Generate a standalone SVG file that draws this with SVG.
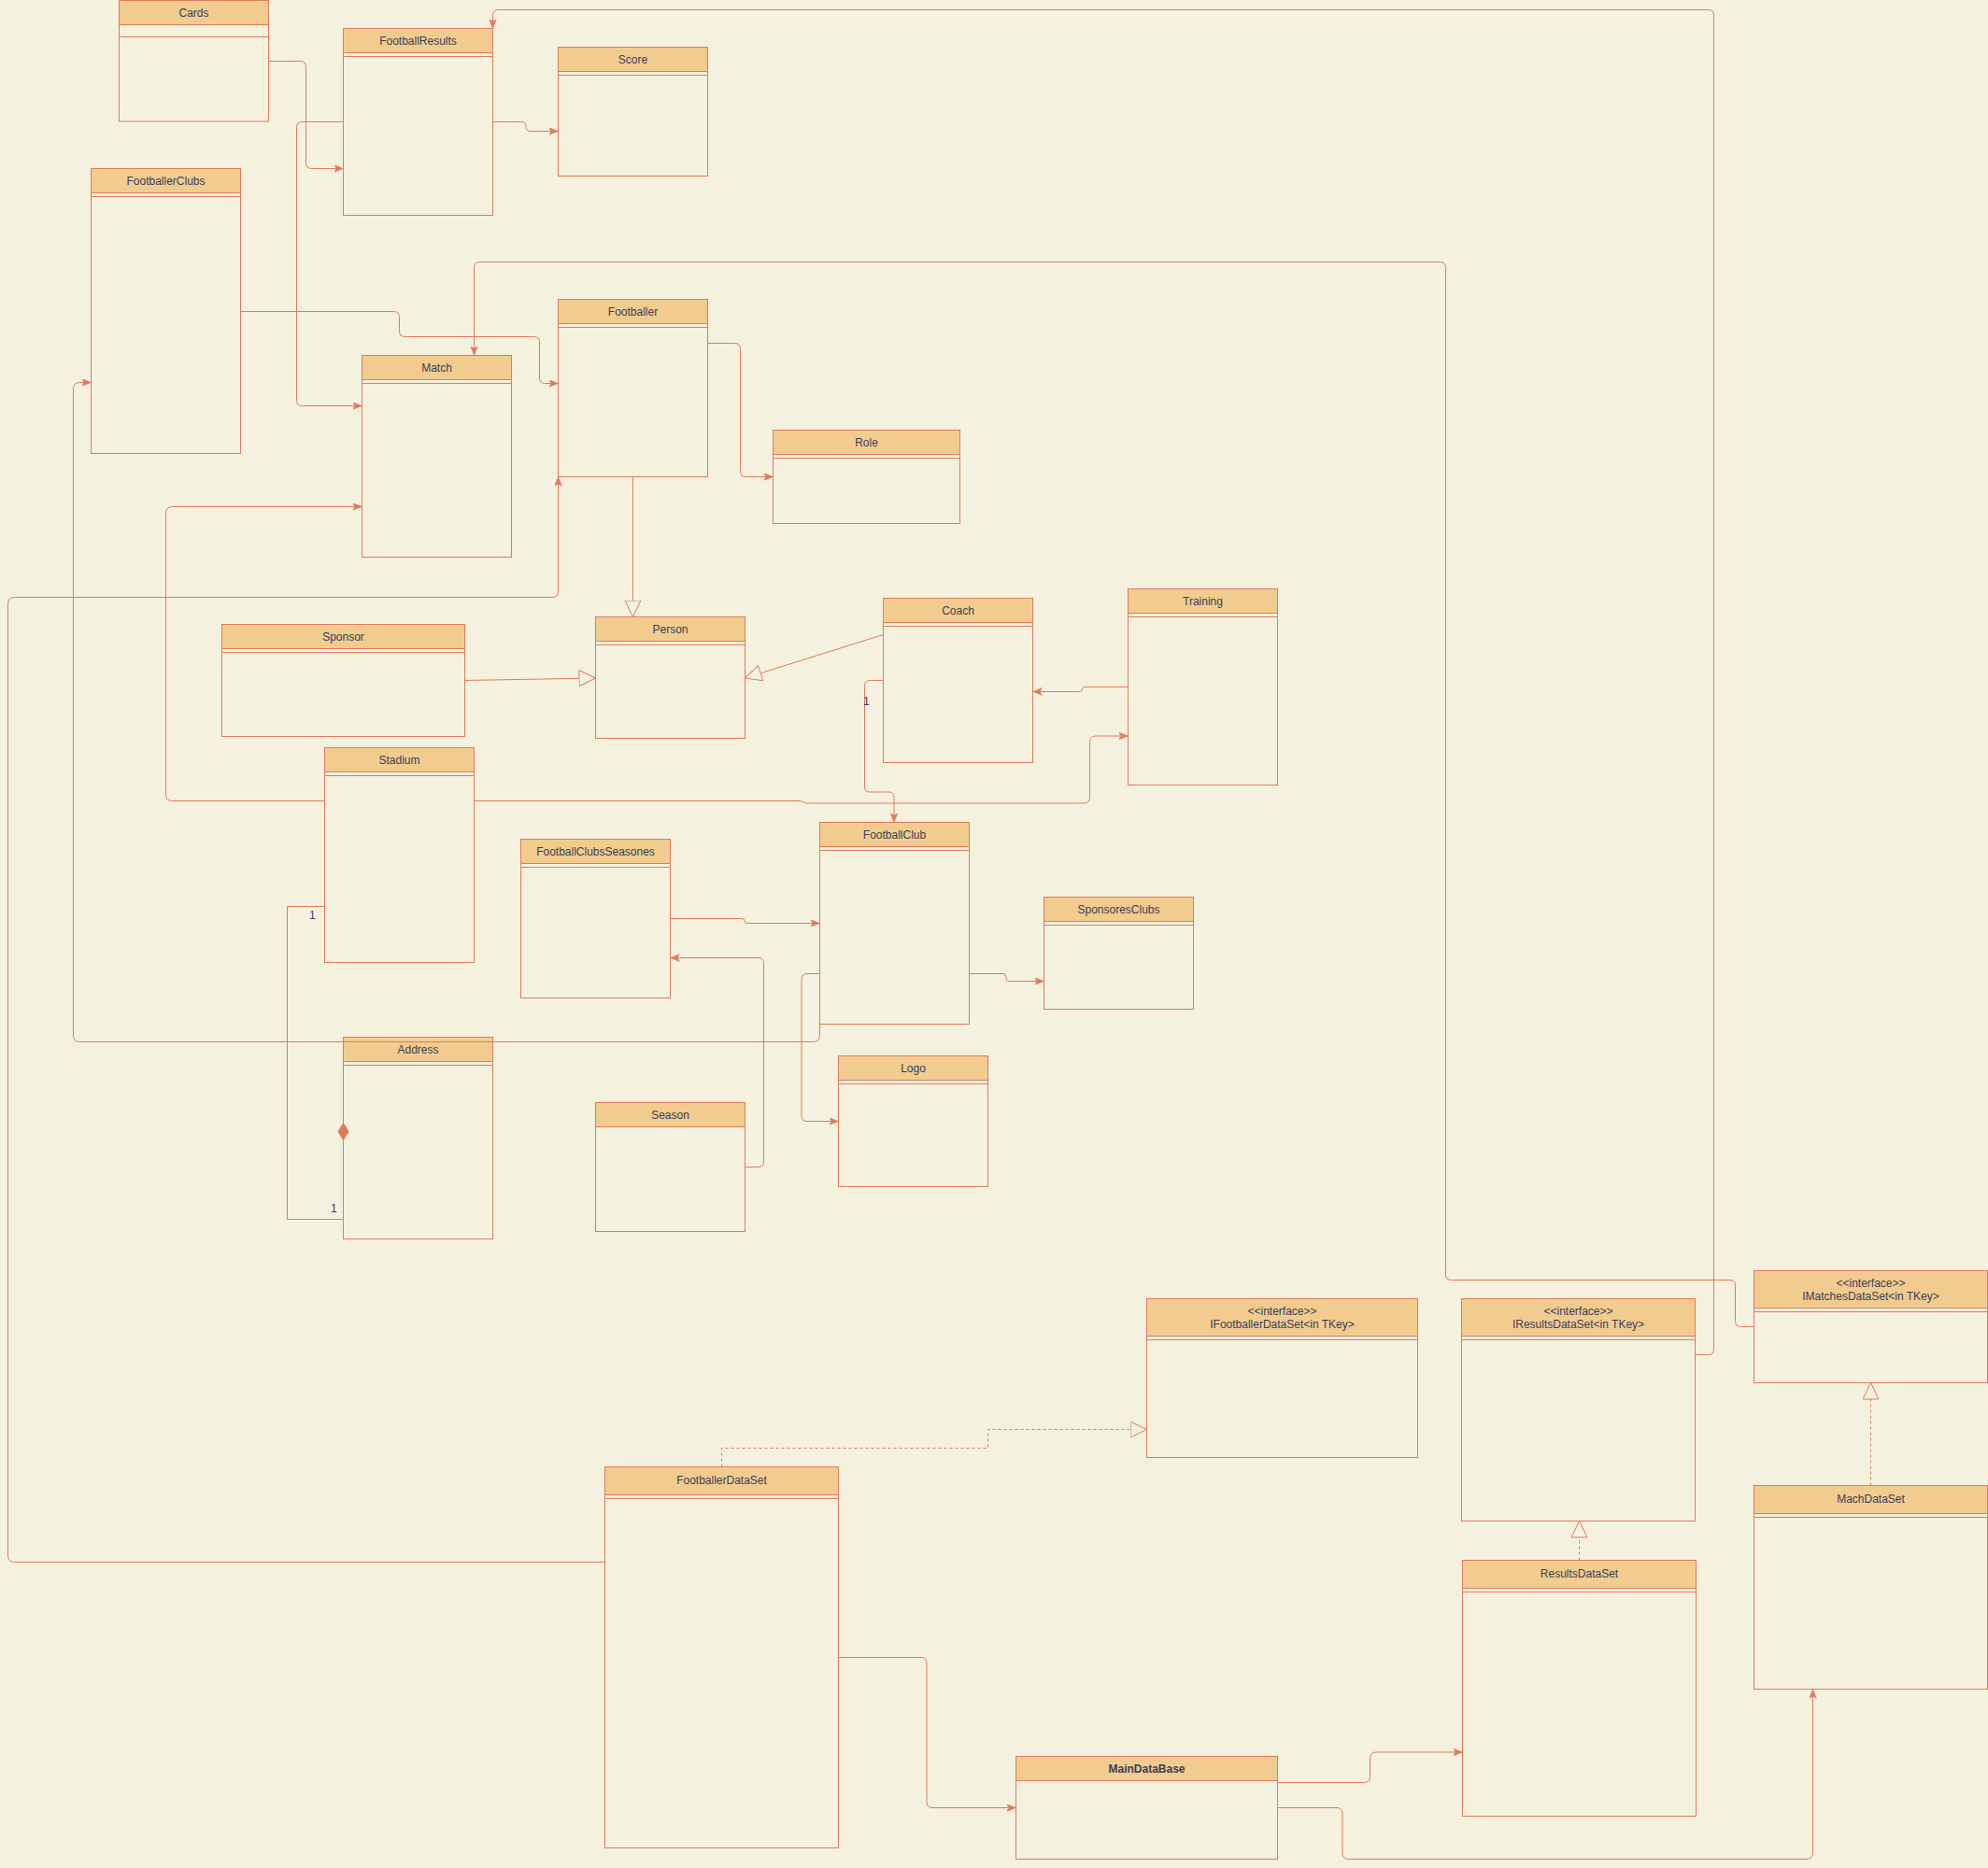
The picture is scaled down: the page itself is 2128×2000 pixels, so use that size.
<svg xmlns="http://www.w3.org/2000/svg" width="2128" height="2000" viewBox="0 0 2128 2000">
<style>
.bg{fill:#F4F1DE}
.box{fill:#F4F1DE;stroke:#E07A5F;stroke-width:1}
.hdr{fill:#F2CC8F;stroke:#E07A5F;stroke-width:1}
.sep{stroke:#E07A5F;stroke-width:1;fill:none}
.t{font-family:"Liberation Sans",Arial,Helvetica,sans-serif;font-size:12px;fill:#393C56;text-anchor:middle;dominant-baseline:central}
.tl{font-family:"Liberation Sans",Arial,Helvetica,sans-serif;font-size:12px;fill:#393C56;dominant-baseline:central}
.b{font-weight:bold}
.e{fill:none;stroke:#E07A5F;stroke-width:1}
.arr{marker-end:url(#arrow)}
.gen{marker-end:url(#tri)}
.dash{stroke-dasharray:3 3}
</style>
<defs>
<marker id="arrow" markerUnits="userSpaceOnUse" markerWidth="12" markerHeight="10" refX="10" refY="4" orient="auto">
<path d="M0,0 L10,4 L0,8 L2.5,4 z" fill="#E07A5F" stroke="#E07A5F" stroke-width="0.5"/>
</marker>
<marker id="tri" markerUnits="userSpaceOnUse" markerWidth="20" markerHeight="20" refX="18" refY="9" orient="auto">
<path d="M0.5,0.5 L18,9 L0.5,17.5 z" fill="#F4F1DE" stroke="#E07A5F" stroke-width="1" stroke-dasharray="none"/>
</marker>
</defs>
<rect class="bg" x="0" y="0" width="2128" height="2000"/>

<g id="Cards">
<rect class="box" x="127.5" y="0.5" width="160" height="129.5"/>
<rect class="hdr" x="127.5" y="0.5" width="160" height="26"/>
<line class="sep" x1="127.5" y1="39.5" x2="287.5" y2="39.5"/>
<text class="t" x="207.5" y="13.5">Cards</text>
</g>

<g id="FootballResults">
<rect class="box" x="367.5" y="30.5" width="160" height="200"/>
<rect class="hdr" x="367.5" y="30.5" width="160" height="26"/>
<line class="sep" x1="367.5" y1="60.5" x2="527.5" y2="60.5"/>
<text class="t" x="447.5" y="43.5">FootballResults</text>
</g>

<g id="Score">
<rect class="box" x="597.5" y="50.5" width="160" height="138"/>
<rect class="hdr" x="597.5" y="50.5" width="160" height="26"/>
<line class="sep" x1="597.5" y1="80.5" x2="757.5" y2="80.5"/>
<text class="t" x="677.5" y="63.5">Score</text>
</g>

<g id="FootballerClubs">
<rect class="box" x="97.5" y="180.5" width="160" height="305"/>
<rect class="hdr" x="97.5" y="180.5" width="160" height="26"/>
<line class="sep" x1="97.5" y1="210.5" x2="257.5" y2="210.5"/>
<text class="t" x="177.5" y="193.5">FootballerClubs</text>
</g>

<g id="Match">
<rect class="box" x="387.5" y="380.5" width="160" height="216"/>
<rect class="hdr" x="387.5" y="380.5" width="160" height="26"/>
<line class="sep" x1="387.5" y1="410.5" x2="547.5" y2="410.5"/>
<text class="t" x="467.5" y="393.5">Match</text>
</g>

<g id="Footballer">
<rect class="box" x="597.5" y="320.5" width="160" height="190"/>
<rect class="hdr" x="597.5" y="320.5" width="160" height="26"/>
<line class="sep" x1="597.5" y1="350.5" x2="757.5" y2="350.5"/>
<text class="t" x="677.5" y="333.5">Footballer</text>
</g>

<g id="Role">
<rect class="box" x="827.5" y="460.5" width="200" height="100"/>
<rect class="hdr" x="827.5" y="460.5" width="200" height="26"/>
<line class="sep" x1="827.5" y1="490.5" x2="1027.5" y2="490.5"/>
<text class="t" x="927.5" y="473.5">Role</text>
</g>

<g id="Sponsor">
<rect class="box" x="237.5" y="668.5" width="260" height="120"/>
<rect class="hdr" x="237.5" y="668.5" width="260" height="26"/>
<line class="sep" x1="237.5" y1="698.5" x2="497.5" y2="698.5"/>
<text class="t" x="367.5" y="681.5">Sponsor</text>
</g>

<g id="Person">
<rect class="box" x="637.5" y="660.5" width="160" height="130"/>
<rect class="hdr" x="637.5" y="660.5" width="160" height="26"/>
<line class="sep" x1="637.5" y1="690.5" x2="797.5" y2="690.5"/>
<text class="t" x="717.5" y="673.5">Person</text>
</g>

<g id="Coach">
<rect class="box" x="945.5" y="640.5" width="160" height="176"/>
<rect class="hdr" x="945.5" y="640.5" width="160" height="26"/>
<line class="sep" x1="945.5" y1="670.5" x2="1105.5" y2="670.5"/>
<text class="t" x="1025.5" y="653.5">Coach</text>
</g>

<g id="Training">
<rect class="box" x="1207.5" y="630.5" width="160" height="210"/>
<rect class="hdr" x="1207.5" y="630.5" width="160" height="26"/>
<line class="sep" x1="1207.5" y1="660.5" x2="1367.5" y2="660.5"/>
<text class="t" x="1287.5" y="643.5">Training</text>
</g>

<g id="Stadium">
<rect class="box" x="347.5" y="800.5" width="160" height="230"/>
<rect class="hdr" x="347.5" y="800.5" width="160" height="26"/>
<line class="sep" x1="347.5" y1="830.5" x2="507.5" y2="830.5"/>
<text class="t" x="427.5" y="813.5">Stadium</text>
</g>

<g id="FootballClubsSeasones">
<rect class="box" x="557.5" y="898.5" width="160" height="170"/>
<rect class="hdr" x="557.5" y="898.5" width="160" height="26"/>
<line class="sep" x1="557.5" y1="928.5" x2="717.5" y2="928.5"/>
<text class="t" x="637.5" y="911.5">FootballClubsSeasones</text>
</g>

<g id="FootballClub">
<rect class="box" x="877.5" y="880.5" width="160" height="216"/>
<rect class="hdr" x="877.5" y="880.5" width="160" height="26"/>
<line class="sep" x1="877.5" y1="910.5" x2="1037.5" y2="910.5"/>
<text class="t" x="957.5" y="893.5">FootballClub</text>
</g>

<g id="SponsoresClubs">
<rect class="box" x="1117.5" y="960.5" width="160" height="120"/>
<rect class="hdr" x="1117.5" y="960.5" width="160" height="26"/>
<line class="sep" x1="1117.5" y1="990.5" x2="1277.5" y2="990.5"/>
<text class="t" x="1197.5" y="973.5">SponsoresClubs</text>
</g>

<g id="Logo">
<rect class="box" x="897.5" y="1130.5" width="160" height="140"/>
<rect class="hdr" x="897.5" y="1130.5" width="160" height="26"/>
<line class="sep" x1="897.5" y1="1160.5" x2="1057.5" y2="1160.5"/>
<text class="t" x="977.5" y="1143.5">Logo</text>
</g>

<g id="Address">
<rect class="box" x="367.5" y="1110.5" width="160" height="216"/>
<rect class="hdr" x="367.5" y="1110.5" width="160" height="26"/>
<line class="sep" x1="367.5" y1="1140.5" x2="527.5" y2="1140.5"/>
<text class="t" x="447.5" y="1123.5">Address</text>
</g>

<g id="Season">
<rect class="box" x="637.5" y="1180.5" width="160" height="138"/>
<rect class="hdr" x="637.5" y="1180.5" width="160" height="26"/>
<text class="t" x="717.5" y="1193.5">Season</text>
</g>

<g id="IFootballerDataSet">
<rect class="box" x="1227.5" y="1390.5" width="290" height="170"/>
<rect class="hdr" x="1227.5" y="1390.5" width="290" height="40"/>
<line class="sep" x1="1227.5" y1="1434.5" x2="1517.5" y2="1434.5"/>
<text class="t" x="1372.5" y="1403.5">&lt;&lt;interface&gt;&gt;</text>
<text class="t" x="1372.5" y="1417.5">IFootballerDataSet&lt;in TKey&gt;</text>
</g>

<g id="IResultsDataSet">
<rect class="box" x="1564.5" y="1390.5" width="250" height="238"/>
<rect class="hdr" x="1564.5" y="1390.5" width="250" height="40"/>
<line class="sep" x1="1564.5" y1="1434.5" x2="1814.5" y2="1434.5"/>
<text class="t" x="1689.5" y="1403.5">&lt;&lt;interface&gt;&gt;</text>
<text class="t" x="1689.5" y="1417.5">IResultsDataSet&lt;in TKey&gt;</text>
</g>

<g id="IMatchesDataSet">
<rect class="box" x="1877.5" y="1360.5" width="250" height="120"/>
<rect class="hdr" x="1877.5" y="1360.5" width="250" height="40"/>
<line class="sep" x1="1877.5" y1="1404.5" x2="2127.5" y2="1404.5"/>
<text class="t" x="2002.5" y="1373.5">&lt;&lt;interface&gt;&gt;</text>
<text class="t" x="2002.5" y="1387.5">IMatchesDataSet&lt;in TKey&gt;</text>
</g>

<g id="MachDataSet">
<rect class="box" x="1877.5" y="1590.5" width="250" height="218"/>
<rect class="hdr" x="1877.5" y="1590.5" width="250" height="30"/>
<line class="sep" x1="1877.5" y1="1624.5" x2="2127.5" y2="1624.5"/>
<text class="t" x="2002.5" y="1604.5">MachDataSet</text>
</g>

<g id="ResultsDataSet">
<rect class="box" x="1565.5" y="1670.5" width="250" height="274"/>
<rect class="hdr" x="1565.5" y="1670.5" width="250" height="30"/>
<line class="sep" x1="1565.5" y1="1704.5" x2="1815.5" y2="1704.5"/>
<text class="t" x="1690.5" y="1684.5">ResultsDataSet</text>
</g>

<g id="FootballerDataSet">
<rect class="box" x="647.5" y="1570.5" width="250" height="408"/>
<rect class="hdr" x="647.5" y="1570.5" width="250" height="30"/>
<line class="sep" x1="647.5" y1="1604.5" x2="897.5" y2="1604.5"/>
<text class="t" x="772.5" y="1584.5">FootballerDataSet</text>
</g>

<g id="MainDataBase">
<rect class="box" x="1087.5" y="1880.5" width="280" height="110"/>
<rect class="hdr" x="1087.5" y="1880.5" width="280" height="26"/>
<text class="t b" x="1227.5" y="1893.5">MainDataBase</text>
</g>

<g id="connectors">
<path class="e arr" d="M287.5 65.5 H321.5 Q327.5 65.5 327.5 71.5 V174.5 Q327.5 180.5 333.5 180.5 H367.5"/>
<path class="e arr" d="M367.5 130.5 H323.5 Q317.5 130.5 317.5 136.5 V428.5 Q317.5 434.5 323.5 434.5 H387.5"/>
<path class="e arr" d="M527.5 130.5 H558 Q563 130.5 563 135.5 Q563 140.5 568 140.5 H597.5"/>
<path class="e arr" d="M257.5 333.5 H421.5 Q427.5 333.5 427.5 339.5 V354.5 Q427.5 360.5 433.5 360.5 H571.5 Q577.5 360.5 577.5 366.5 V404.5 Q577.5 410.5 583.5 410.5 H597.5"/>
<path class="e arr" d="M1877.5 1420.5 H1863.5 Q1857.5 1420.5 1857.5 1414.5 V1376.5 Q1857.5 1370.5 1851.5 1370.5 H1553.5 Q1547.5 1370.5 1547.5 1364.5 V286.5 Q1547.5 280.5 1541.5 280.5 H513.5 Q507.5 280.5 507.5 286.5 V380.5"/>
<path class="e arr" d="M1814.5 1450.5 H1828.5 Q1834.5 1450.5 1834.5 1444.5 V16.5 Q1834.5 10.5 1828.5 10.5 H533.5 Q527.5 10.5 527.5 16.5 V30.5"/>
<path class="e arr" d="M757.5 367.5 H786.5 Q792.5 367.5 792.5 373.5 V504.5 Q792.5 510.5 798.5 510.5 H827.5"/>
<path class="e arr" d="M647.5 1672.5 H15.5 Q8.5 1672.5 8.5 1665.5 V646.5 Q8.5 639.5 15.5 639.5 H591.5 Q597.5 639.5 597.5 633.5 V510.5"/>
<path class="e arr" d="M347.5 857.5 H184.5 Q177.5 857.5 177.5 850.5 V549.5 Q177.5 542.5 184.5 542.5 H387.5"/>
<path class="e arr" d="M877.5 1096.5 V1108.5 Q877.5 1115.5 870.5 1115.5 H85.5 Q78.5 1115.5 78.5 1108.5 V416.5 Q78.5 409.5 85.5 409.5 H97.5"/>
<path class="e gen" d="M677.5 510.5 V660.5"/>
<path class="e gen" d="M497.5 728.5 L637.5 726"/>
<path class="e gen" d="M945.5 679.5 L797.5 726"/>
<path class="e arr" d="M945.5 728.5 H931.5 Q925.5 728.5 925.5 734.5 V842 Q925.5 848 931.5 848 H951 Q957 848 957 854 V880.5"/>
<path class="e arr" d="M1207.5 735.5 H1163 Q1158.5 735.5 1158.5 738 Q1158.5 740.5 1154 740.5 H1105.5"/>
<path class="e arr" d="M507.5 857.5 H855 Q860 857.5 862 860 H1160 Q1166.5 860 1166.5 853.5 V794.5 Q1166.5 788 1173 788 H1207.5"/>
<path class="e arr" d="M717.5 983.5 H794 Q797 983.5 797 986 Q797 988.5 800 988.5 H877.5"/>
<path class="e arr" d="M797.5 1249.5 H811.5 Q817.5 1249.5 817.5 1243.5 V1031.5 Q817.5 1025.5 811.5 1025.5 H717.5"/>
<path class="e arr" d="M1037.5 1042.5 H1074 Q1077 1042.5 1077 1046 Q1077 1050.5 1080 1050.5 H1117.5"/>
<path class="e arr" d="M877.5 1042.5 H864 Q858 1042.5 858 1048.5 V1194.5 Q858 1200.5 864 1200.5 H897.5"/>
<path class="e" d="M347.5 970.5 H307.5 V1305.5 H367.5 V1220"/>
<polygon points="367.5,1202.5 373,1211.5 367.5,1220.5 362,1211.5" fill="#E07A5F" stroke="#E07A5F"/>
<path class="e gen dash" d="M772.5 1570.5 V1550.5 H1057.5 V1530.5 H1227.5"/>
<path class="e arr" d="M897.5 1774.5 H986 Q992 1774.5 992 1780.5 V1929.5 Q992 1935.5 998 1935.5 H1087.5"/>
<path class="e arr" d="M1367.5 1908.5 H1460 Q1466.5 1908.5 1466.5 1902 V1882.5 Q1466.5 1876 1473 1876 H1565.5"/>
<path class="e arr" d="M1367.5 1935.5 H1431 Q1437 1935.5 1437 1941.5 V1984 Q1437 1990.5 1443.5 1990.5 H1934 Q1940.5 1990.5 1940.5 1984 V1808.5"/>
<path class="e gen dash" d="M1690.5 1670.5 V1628.5"/>
<path class="e gen dash" d="M2002.5 1590.5 V1480.5"/>
<text class="tl" x="924" y="751">1</text>
<text class="tl" x="331" y="980">1</text>
<text class="tl" x="354" y="1294">1</text>
</g>
</svg>
